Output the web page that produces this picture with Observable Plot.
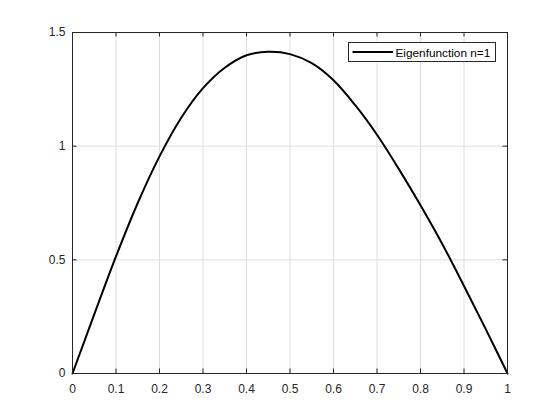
<!DOCTYPE html>
<html><head><meta charset="utf-8">
<script src="https://cdn.jsdelivr.net/npm/d3@7"></script>
<script src="https://cdn.jsdelivr.net/npm/@observablehq/plot@0.6"></script>
<style>
body{margin:0;background:#fff}
#chart{position:relative;width:560px;height:420px}
</style>
</head><body><div id="chart"></div>
<script>
// Data
const xValues = [0, 0.05, 0.1, 0.15, 0.2, 0.25, 0.3, 0.35, 0.4, 0.45, 0.5, 0.55, 0.6, 0.65, 0.7, 0.75, 0.8, 0.85, 0.9, 0.95, 1];
const yValues = [0, 0.26, 0.515, 0.75, 0.955, 1.125, 1.255, 1.345, 1.4, 1.415, 1.405, 1.365, 1.29, 1.18, 1.05, 0.9, 0.74, 0.57, 0.385, 0.195, 0];
const xTicks = [0, 0.1, 0.2, 0.3, 0.4, 0.5, 0.6, 0.7, 0.8, 0.9, 1];
const xTickLabels = ["0", "0.1", "0.2", "0.3", "0.4", "0.5", "0.6", "0.7", "0.8", "0.9", "1"];
const yTicks = [0, 0.5, 1, 1.5];
const yTickLabels = ["0", "0.5", "1", "1.5"];
const seriesName = "Eigenfunction n=1";

const data = xValues.map((x, i) => ({x, y: yValues[i]}));

const W = 560, H = 420, mt = 32, mb = 47, ml = 72, mr = 53;
const plotH = H - mt - mb, plotW = W - ml - mr, tl = 4.5;
const axisColor = "#262626";
const gridColor = "#dedede";
const font = "'Liberation Sans', Arial, sans-serif";

const chart = Plot.plot({
  width: W, height: H,
  marginTop: mt, marginBottom: mb, marginLeft: ml, marginRight: mr,
  style: {fontFamily: font, fontSize: "12px", color: axisColor, background: "#fff"},
  x: {domain: [0, 1]},
  y: {domain: [0, 1.5]},
  marks: [
    Plot.gridX(xTicks, {stroke: gridColor, strokeOpacity: 1}),
    Plot.gridY(yTicks, {stroke: gridColor, strokeOpacity: 1}),
    Plot.line(data, {x: "x", y: "y", stroke: "#000", strokeWidth: 2, curve: "catmull-rom"}),
    Plot.tickX(xTicks, {x: d => d, insetTop: plotH - tl, stroke: axisColor}),
    Plot.tickX(xTicks, {x: d => d, insetBottom: plotH - tl, stroke: axisColor}),
    Plot.tickY(yTicks, {y: d => d, insetRight: plotW - tl, stroke: axisColor}),
    Plot.tickY(yTicks, {y: d => d, insetLeft: plotW - tl, stroke: axisColor}),
    Plot.axisX(xTicks, {tickSize: 0, tickPadding: 11, fontSize: 12, label: null, tickFormat: d => xTickLabels[xTicks.indexOf(d)]}),
    Plot.axisY(yTicks, {tickSize: 0, tickPadding: 7, fontSize: 12, label: null, tickFormat: d => yTickLabels[yTicks.indexOf(d)]}),
    Plot.frame({stroke: axisColor, strokeWidth: 1})
  ]
});

// Legend box (MATLAB-style, inside the axes, top right)
const svg = d3.select(chart);
const lg = svg.append("g").attr("class", "legend");
lg.append("rect").attr("x", 348.5).attr("y", 42.5).attr("width", 147).attr("height", 19)
  .attr("fill", "#fff").attr("stroke", axisColor).attr("stroke-width", 1);
lg.append("line").attr("x1", 352.5).attr("x2", 393).attr("y1", 52).attr("y2", 52)
  .attr("stroke", "#000").attr("stroke-width", 2);
lg.append("text").attr("x", 395.5).attr("y", 56.5)
  .attr("text-anchor", "start")
  .style("font-family", font).style("font-size", "11.8px")
  .attr("fill", "#000").text(seriesName);

document.getElementById("chart").appendChild(chart);
</script>
</body></html>
